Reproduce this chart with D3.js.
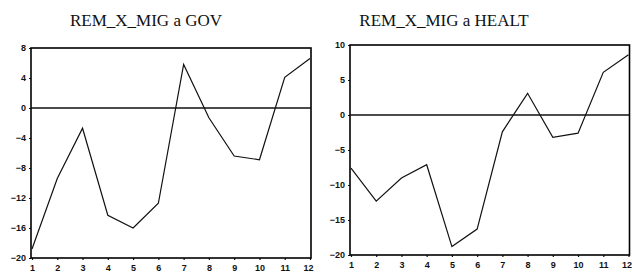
<!DOCTYPE html>
<html>
<head>
<meta charset="utf-8">
<script src="https://cdn.jsdelivr.net/npm/d3@7"></script>
<style>
  body { margin: 0; background: #fff; }
  svg { display: block; }
</style>
</head>
<body>
<div class="graph"></div>
<script>
// data
var periods = [1, 2, 3, 4, 5, 6, 7, 8, 9, 10, 11, 12];
var govValues = [-18.8, -9.4, -2.7, -14.3, -16.0, -12.7, 5.8, -1.3, -6.4, -6.9, 4.1, 6.6];
var healtValues = [-7.6, -12.3, -9.0, -7.1, -18.8, -16.3, -2.4, 3.1, -3.2, -2.6, 6.1, 8.6];
var govTicks = [-20, -16, -12, -8, -4, 0, 4, 8];
var healtTicks = [-20, -15, -10, -5, 0, 5, 10];
var titles = ["REM_X_MIG a GOV", "REM_X_MIG a HEALT"];

var svg = d3.select(".graph")
  .append("svg")
  .attr("width", 632)
  .attr("height", 274);

// one panel per series
var panels = [
  {title: titles[0], values: govValues, ticks: govTicks, x0: 31, x1: 311, y0: 48, y1: 258, tx: 146},
  {title: titles[1], values: healtValues, ticks: healtTicks, x0: 350, x1: 629.5, y0: 45, y1: 255, tx: 444}
];

panels.forEach(function(p){
  var x = d3.scaleLinear()
    .domain([1, 12])
    .range([p.x0 + 1, p.x1 - 1]);
  var y = d3.scaleLinear()
    .domain([p.ticks[0], p.ticks[p.ticks.length - 1]])
    .range([p.y1, p.y0]);

  svg.append("text")
    .attr("x", p.tx)
    .attr("y", 26)
    .attr("text-anchor", "middle")
    .attr("font-family", "Liberation Serif, Times New Roman, serif")
    .attr("font-size", "17px")
    .attr("fill", "#111")
    .text(p.title);

  var yAxis = svg.append("g")
    .attr("transform", "translate(" + p.x0 + ",0)")
    .call(d3.axisLeft(y).tickValues(p.ticks).tickSize(2).tickPadding(3).tickFormat(d3.format("d")));
  var xAxis = svg.append("g")
    .attr("transform", "translate(0," + p.y1 + ")")
    .call(d3.axisBottom(x).tickValues(periods).tickSize(2).tickPadding(5));

  [yAxis, xAxis].forEach(function(a){
    a.select(".domain").remove();
    a.selectAll("line").attr("stroke", "#111").attr("stroke-width", 1.2);
    a.selectAll("text")
      .attr("font-family", "Liberation Sans, Arial, sans-serif")
      .attr("font-weight", "bold")
      .attr("font-size", "9px")
      .attr("fill", "#111");
  });
  // last period label sits against the right edge
  xAxis.selectAll(".tick:last-of-type text").attr("text-anchor", "end").attr("dx", "3px");

  // frame
  svg.append("rect")
    .attr("x", p.x0)
    .attr("y", p.y0)
    .attr("width", p.x1 - p.x0)
    .attr("height", p.y1 - p.y0)
    .style("fill", "none")
    .style("stroke", "#000")
    .style("stroke-width", 1.6);

  // zero line
  svg.append("line")
    .attr("x1", p.x0)
    .attr("x2", p.x1)
    .attr("y1", y(0))
    .attr("y2", y(0))
    .style("stroke", "#111")
    .style("stroke-width", 1.6);

  var line = d3.line()
    .x(function(d, i){ return x(periods[i]); })
    .y(function(d){ return y(d); });

  svg.append("path")
    .datum(p.values)
    .attr("d", line)
    .style("fill", "none")
    .style("stroke", "#111")
    .style("stroke-width", 1.2);
});
</script>
</body>
</html>
